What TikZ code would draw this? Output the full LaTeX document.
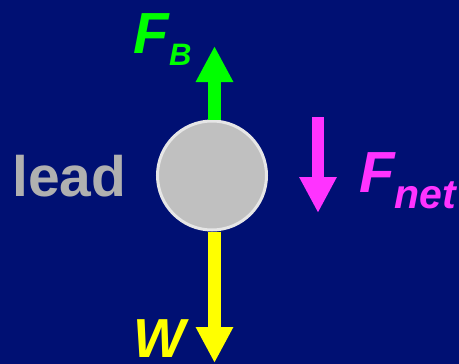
\documentclass[tikz,border=0pt]{standalone}
\usepackage{fontspec}
\setmainfont{Liberation Sans}
\usetikzlibrary{arrows.meta}
\definecolor{bg}{RGB}{0,16,115}
\definecolor{fgreen}{RGB}{0,255,0}
\definecolor{fyellow}{RGB}{255,255,0}
\definecolor{fmag}{RGB}{255,51,255}
\definecolor{ballgray}{RGB}{192,192,192}
\definecolor{ballrim}{RGB}{230,230,230}
\definecolor{leadgray}{RGB}{176,176,176}
\begin{document}
\begin{tikzpicture}[x=1pt,y=-1pt,
  force/.style={line width=12.5pt,-{Triangle[width=35pt,length=36pt]}},
  lab/.style={inner sep=0pt,anchor=base west,font=\bfseries\itshape}]
\fill[bg] (0,0) rectangle (459,364);
\useasboundingbox (0,0) rectangle (459,364);
\node[circle,fill=ballgray,draw=ballrim,line width=3pt,minimum size=109pt,inner sep=0pt] (ball) at (212,175.5) {};
\coordinate (tipB) at (214.5,46);
\coordinate (tipW) at (214.5,363);
\coordinate (netS) at (318,117);
\coordinate (netE) at (318,213);
\draw[force,fgreen] (ball.north -| tipB) -- (tipB);
\draw[force,fyellow] (ball.south -| tipW) -- (tipW);
\draw[force,fmag,line width=12pt] (netS) -- (netE);
\node[lab,text=fgreen,font=\fontsize{58}{58}\bfseries\itshape] (fb) at (133,53) {F};
\node[lab,text=fgreen,font=\fontsize{31}{31}\bfseries\itshape] (fbs) at (169,65) {B};
\node[lab,text=fmag,font=\fontsize{58}{58}\bfseries\itshape] (fn) at (359,192) {F};
\node[lab,text=fmag,font=\fontsize{41}{41}\bfseries\itshape] (fns) at (394,208) {net};
\node[lab,text=fyellow,font=\fontsize{55}{55}\bfseries\itshape] (w) at (133,357) {W};
\node[lab,text=leadgray,font=\fontsize{57}{57}\bfseries] (lead) at (12,196) {lead};
\end{tikzpicture}
\end{document}
